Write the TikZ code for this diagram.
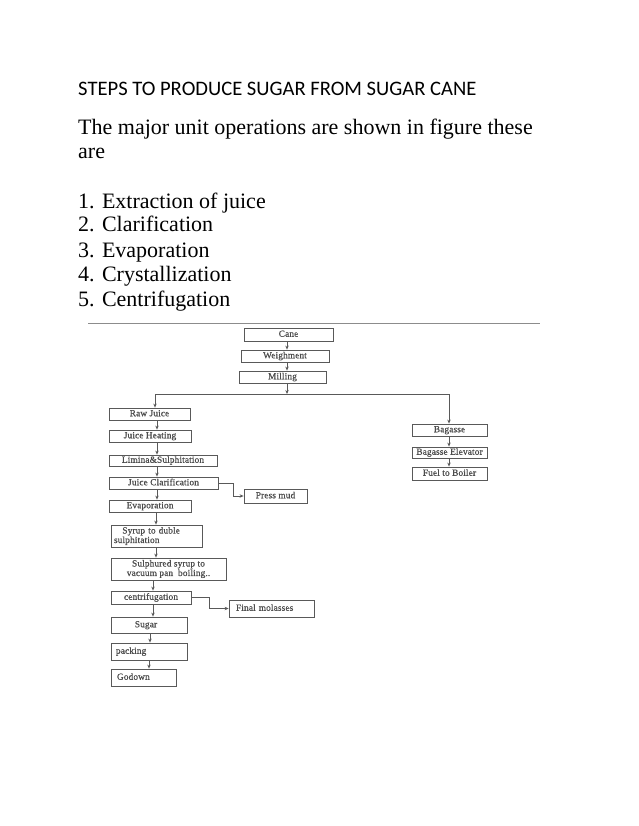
\documentclass[tikz,border=0pt]{standalone}
\usepackage{fontspec}
\setmainfont{Liberation Serif}
\newfontfamily\titlefont{Carlito}
\newfontfamily\diafont[LetterSpace=1.5,FakeBold=0.6]{Liberation Serif}
\usetikzlibrary{arrows.meta}
\begin{document}
\begin{tikzpicture}[x=1pt,y=-1pt,
  box/.style={draw=black!65, line width=0.8pt, inner sep=0pt,
    font=\diafont\fontsize{9.3}{9.5}\selectfont, text=black!70,
    text height=6.3pt, text depth=1.8pt},
  arr/.style={draw=black!65, line width=0.8pt, -{Stealth[length=4pt,width=3.4pt]}},
  body/.style={anchor=base west, inner sep=0pt, font=\fontsize{22}{26}\selectfont}]
\useasboundingbox[fill=white] (0,0) rectangle (638,826);

% text block
\node[anchor=base west, inner sep=0pt, font=\titlefont\fontsize{20.6}{24}\selectfont] (title) at (78,96) {STEPS TO PRODUCE SUGAR FROM SUGAR CANE};
\node[body] (intro1) at (78,135) {The major unit operations are shown in figure these};
\node[body] (intro2) at (78,159) {are};
\node[body] (l1) at (78,208) {1. Extraction of juice};
\node[body] (l2) at (78,232) {2. Clarification};
\node[body] (l3) at (78,257) {3. Evaporation};
\node[body] (l4) at (78,281) {4. Crystallization};
\node[body] (l5) at (78,306) {5. Centrifugation};

% top rule
\draw[draw=black!45, line width=1.4pt] (88,323.5) -- (540,323.5);

% top column
\node[box, minimum width=89pt, minimum height=13pt] (cane) at (288.5,334.5) {Cane};
\node[box, minimum width=88pt, minimum height=12pt] (weigh) at (285,356) {Weighment};
\node[box, minimum width=87pt, minimum height=12pt] (mill) at (282.5,377) {Milling};

% left column
\node[box, minimum width=81pt, minimum height=12pt] (raw) at (149.5,414) {Raw Juice};
\node[box, minimum width=82pt, minimum height=12pt] (heat) at (150,436) {Juice Heating};
\node[box, minimum width=108pt, minimum height=11pt] (lim) at (163,460.5) {Limina\&Sulphitation};
\node[box, minimum width=109pt, minimum height=12pt] (clar) at (163.5,483) {Juice Clarification};
\node[box, minimum width=63pt, minimum height=14pt] (press) at (275.5,496) {Press mud};
\node[box, minimum width=82pt, minimum height=12pt] (evap) at (150,506) {Evaporation};
\node[box, minimum width=91pt, minimum height=22pt, text width=85pt, inner xsep=3pt, align=left, text height=, text depth=] (syrup) at (156.5,536) {\hspace*{0.9em}Syrup to duble\\sulphitation};
\node[box, minimum width=115pt, minimum height=22pt, align=center, text height=, text depth=] (sulph) at (168.5,569) {Sulphured syrup to\\vacuum pan\ \ boiling..};
\node[box, minimum width=80pt, minimum height=13pt] (cent) at (151,597.5) {centrifugation};
\node[box, minimum width=85pt, minimum height=17pt, text width=77pt, inner xsep=4pt, align=left] (final) at (271.5,608.5) {\hspace*{3pt}Final molasses};
\node[box, minimum width=76pt, minimum height=16pt] (sugar) at (149,625) {Sugar\hspace*{6pt}};
\node[box, minimum width=76pt, minimum height=17pt, text width=70pt, inner xsep=3pt, align=left] (pack) at (149,651.5) {\hspace*{2pt}packing};
\node[box, minimum width=65pt, minimum height=17pt, text width=59pt, inner xsep=3pt, align=left] (god) at (143.5,677.5) {\hspace*{3pt}Godown};

% right column
\node[box, minimum width=75pt, minimum height=12pt] (bag) at (449.5,430) {Bagasse};
\node[box, minimum width=75pt, minimum height=11pt] (bagel) at (449.5,452.5) {Bagasse Elevator};
\node[box, minimum width=75pt, minimum height=13pt] (fuel) at (449.5,473.5) {Fuel to Boiler};

% column x positions
\coordinate (xt) at (287,0);
\coordinate (xr) at (155,0);
\coordinate (xa) at (157,0);
\coordinate (xs) at (156,0);
\coordinate (xb) at (153,0);
\coordinate (xc) at (150,0);
\coordinate (xd) at (149,0);
\coordinate (xg) at (449,0);
\coordinate (split) at (287,394);

% connectors top
\draw[arr] (cane.south -| xt) -- (weigh.north -| xt);
\draw[arr] (weigh.south -| xt) -- (mill.north -| xt);
\draw[arr] (mill.south -| xt) -- (split);
\draw[arr] (split) -| (raw.north -| xr);
\draw[arr] (split) -| (bag.north -| xg);

% connectors left
\draw[arr] (raw.south -| xa) -- (heat.north -| xa);
\draw[arr] (heat.south -| xa) -- (lim.north -| xa);
\draw[arr] (lim.south -| xa) -- (clar.north -| xa);
\draw[arr] (clar.south -| xa) -- (evap.north -| xa);
\draw[arr] (evap.south -| xs) -- (syrup.north -| xs);
\draw[arr] (syrup.south -| xs) -- (sulph.north -| xs);
\draw[arr] (sulph.south -| xb) -- (cent.north -| xb);
\draw[arr] (cent.south -| xb) -- (sugar.north -| xb);
\draw[arr] (sugar.south -| xc) -- (pack.north -| xc);
\draw[arr] (pack.south -| xd) -- (god.north -| xd);
\draw[arr] (clar.east) -- ++(15,0) |- (press.west);
\draw[arr] (cent.east) -- ++(18,0) |- (final.west);

% connectors right
\draw[arr] (bag.south -| xg) -- (bagel.north -| xg);
\draw[arr] (bagel.south -| xg) -- (fuel.north -| xg);
\end{tikzpicture}
\end{document}
